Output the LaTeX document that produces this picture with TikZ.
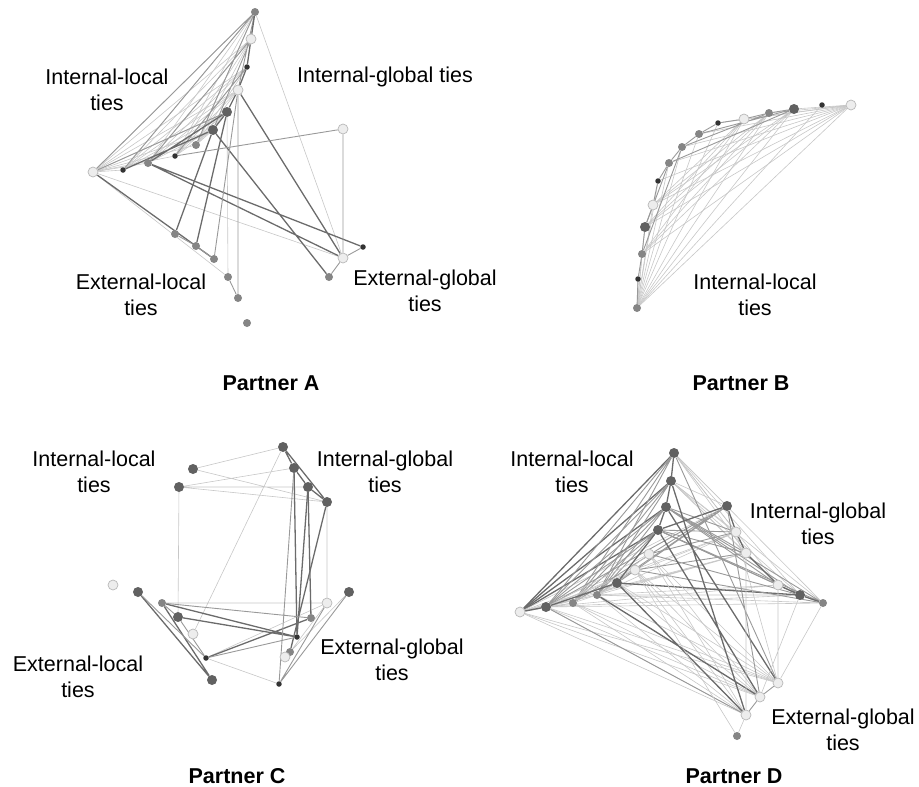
\documentclass[tikz,border=0pt]{standalone}
\usepackage{fontspec}
\setmainfont{Liberation Sans}
\usetikzlibrary{backgrounds}

\tikzset{
  dk/.style={circle,fill=black!62,inner sep=0pt,minimum size=10pt},
  dks/.style={circle,fill=black!80,inner sep=0pt,minimum size=5.5pt},
  md/.style={circle,fill=black!48,inner sep=0pt,minimum size=8pt},
  lt/.style={circle,fill=black!7,draw=black!28,line width=0.7pt,inner sep=0pt,minimum size=10pt},
  tieL/.style={draw=black!22,line width=0.6pt},
  tieM/.style={draw=black!40,line width=0.9pt},
  tieD/.style={draw=black!58,line width=1.3pt},
  lab/.style={font=\fontsize{21.5}{26}\selectfont,align=center},
  ttl/.style={font=\fontsize{21.5}{26}\selectfont\bfseries}
}

\begin{document}
\begin{tikzpicture}[x=1pt,y=-1pt]
\useasboundingbox (0,0) rectangle (919,787);

% Partner A
\node[md]  (A1)  at (255,12)  {};
\node[lt]  (A2)  at (251,39)  {};
\node[dks] (A3)  at (247,67)  {};
\node[lt]  (A4)  at (238,90)  {};
\node[dk]  (A5)  at (227,112) {};
\node[dk]  (A6)  at (213,130) {};
\node[md]  (A7)  at (196,145) {};
\node[dks] (A8)  at (175,156) {};
\node[md]  (A9)  at (148,163) {};
\node[dks] (A10) at (123,170) {};
\node[lt]  (A11) at (93,172)  {};
\node[lt]  (A12) at (343,129) {};
\node[dks] (A13) at (363,247) {};
\node[lt]  (A14) at (343,258) {};
\node[md]  (A15) at (329,277) {};
\node[md]  (A16) at (175,234) {};
\node[md]  (A17) at (196,246) {};
\node[md]  (A18) at (214,259) {};
\node[md]  (A19) at (228,277) {};
\node[md]  (A20) at (238,298) {};
\node[md]  (A21) at (247,323) {};

% Partner B
\node[lt]  (B1)  at (851,105) {};
\node[dks] (B2)  at (822,105) {};
\node[dk]  (B3)  at (794,109) {};
\node[md]  (B4)  at (769,113) {};
\node[lt]  (B5)  at (744,119) {};
\node[dks] (B6)  at (718,123) {};
\node[md]  (B7)  at (699,134) {};
\node[md]  (B8)  at (682,147) {};
\node[md]  (B9)  at (669,163) {};
\node[dks] (B10) at (658,181) {};
\node[lt]  (B11) at (653,205) {};
\node[dk]  (B12) at (645,227) {};
\node[md]  (B13) at (642,254) {};
\node[dks] (B14) at (638,279) {};
\node[md]  (B15) at (637,308) {};

% Partner C
\node[dk]  (C1)  at (283,447) {};
\node[dk]  (C2)  at (193,469) {};
\node[dk]  (C3)  at (294,468) {};
\node[dk]  (C4)  at (179,487) {};
\node[dk]  (C5)  at (308,487) {};
\node[dk]  (C6)  at (327,502) {};
\node[lt]  (C7)  at (113,585) {};
\node[dk]  (C8)  at (138,592) {};
\node[dk]  (C9)  at (349,592) {};
\node[md]  (C10) at (162,603) {};
\node[lt]  (C11) at (327,603) {};
\node[dk]  (C12) at (178,617) {};
\node[md]  (C13) at (311,618) {};
\node[lt]  (C14) at (193,634) {};
\node[dks] (C15) at (297,637) {};
\node[md]  (C16) at (290,652) {};
\node[lt]  (C17) at (285,657) {};
\node[dks] (C18) at (206,658) {};
\node[dk]  (C19) at (212,680) {};
\node[dks] (C20) at (279,684) {};

% Partner D
\node[dk]  (D1)  at (674,453) {};
\node[dk]  (D2)  at (671,481) {};
\node[dk]  (D3)  at (666,507) {};
\node[dk]  (D4)  at (727,506) {};
\node[dk]  (D5)  at (658,530) {};
\node[lt]  (D6)  at (736,532) {};
\node[lt]  (D7)  at (649,554) {};
\node[lt]  (D8)  at (746,553) {};
\node[lt]  (D9)  at (635,570) {};
\node[dk]  (D10) at (617,583) {};
\node[lt]  (D11) at (778,585) {};
\node[md]  (D12) at (597,595) {};
\node[dk]  (D13) at (800,595) {};
\node[md]  (D14) at (573,603) {};
\node[md]  (D15) at (823,603) {};
\node[dk]  (D16) at (546,607) {};
\node[lt]  (D17) at (520,612) {};
\node[lt]  (D18) at (778,683) {};
\node[lt]  (D19) at (760,697) {};
\node[lt]  (D20) at (746,715) {};
\node[md]  (D21) at (737,736) {};

\begin{pgfonlayer}{background}
% ties of A
\foreach \j in {1,...,10} \draw[tieL] (A11) -- (A\j);
\foreach \i in {7,8,9,10} \foreach \j in {1,...,6} \draw[tieL] (A\i) -- (A\j);
\draw[tieM] (A11) -- (A1) (A11) -- (A5) (A1) -- (A7) (A1) -- (A4) (A2) -- (A6)
  (A10) -- (A1) (A9) -- (A2) (A8) -- (A3);
\draw[tieD] (A10) -- (A6) (A9) -- (A5) (A1) -- (A2) -- (A3) -- (A4) -- (A5) -- (A6);
\draw[tieL] (A1) -- (A14) (A11) -- (A14) (A11) -- (A19) (A19) -- (A5);
\draw[tieD] (A4) -- (A14) (A6) -- (A15) (A9) -- (A13) (A9) -- (A14) (A11) -- (A18);
\draw[tieD] (A16) -- (A6) (A17) -- (A5);
\draw[tieM] (A4) -- (A20) (A8) -- (A12) (A12) -- (A14) (A13) -- (A14) -- (A15);
\draw[tieM] (A16) -- (A17) -- (A18) (A18) -- (A4) (A19) -- (A20);

% ties of B
\foreach \j in {1,...,14} \draw[tieL] (B15) -- (B\j);
\foreach \j in {3,...,13} \draw[tieL] (B1) -- (B\j);
\foreach \j in {3,4,5} \draw[tieL] (B11) -- (B\j) (B12) -- (B\j) (B13) -- (B\j);
\draw[tieM] (B15) -- (B14) -- (B13) -- (B12) -- (B11) -- (B10) -- (B9) -- (B8)
  -- (B7) -- (B6) -- (B5) -- (B4) -- (B3);
\draw[tieM] (B9) -- (B3) (B7) -- (B3) (B8) -- (B4) (B12) -- (B9) (B13) -- (B8);

% ties of C
\draw[tieL] (C1) -- (C2) (C2) -- (C6) (C4) -- (C6) (C4) -- (C5) (C4) -- (C3);
\draw[tieL] (C4) -- (C12) (C6) -- (C11) (C1) -- (C14) (C10) -- (C11);
\draw[tieL] (C18) -- (C11) (C18) -- (C20) (C17) -- (C9) (C16) -- (C11);
\draw[tieD] (C1) -- (C3) -- (C5) -- (C6) (C1) -- (C6) (C3) -- (C15) (C5) -- (C13);
\draw[tieD] (C5) -- (C15) (C6) -- (C16) (C8) -- (C19) (C10) -- (C19);
\draw[tieD] (C10) -- (C15) (C12) -- (C15) (C18) -- (C13);
\draw[tieM] (C3) -- (C20) (C10) -- (C13) (C8) -- (C18) (C18) -- (C15);
\draw[tieM] (C20) -- (C9) (C20) -- (C11) (C10) -- (C12) -- (C18);

% ties of D
\foreach \j in {1,2,3,5} \draw[tieD] (D17) -- (D\j);
\foreach \j in {4,6,...,16} \draw[tieL] (D17) -- (D\j);
\foreach \j in {1,...,5} \draw[tieM] (D16) -- (D\j) (D14) -- (D\j) (D12) -- (D\j);
\foreach \j in {6,...,15} \draw[tieL] (D16) -- (D\j) (D12) -- (D\j);
\foreach \j in {4,6,8,11,13,15} \draw[tieL] (D1) -- (D\j) (D2) -- (D\j);
\foreach \j in {6,8,11,13,15} \draw[tieM] (D3) -- (D\j) (D5) -- (D\j);
\draw[tieD] (D1) -- (D2) -- (D3) -- (D5) -- (D10) -- (D16) -- (D17);
\draw[tieD] (D10) -- (D13) (D5) -- (D4) (D4) -- (D6) -- (D8) -- (D11) -- (D13) -- (D15);
\draw[tieM] (D7) -- (D6) (D9) -- (D8) (D9) -- (D15) (D7) -- (D13) (D10) -- (D4);
\foreach \i in {18,19,20} \foreach \j in {10,12,14,16,17,7,9} \draw[tieL] (D\i) -- (D\j);
\draw[tieD] (D10) -- (D20) (D5) -- (D19) (D3) -- (D18) (D2) -- (D20) (D12) -- (D19);
\draw[tieM] (D1) -- (D18) (D16) -- (D20) (D18) -- (D19) -- (D20) (D4) -- (D19);
\draw[tieL] (D20) -- (D21) (D15) -- (D18) (D11) -- (D18) (D13) -- (D19) (D8) -- (D20)
  (D6) -- (D18) (D9) -- (D21);
\end{pgfonlayer}

% labels
\node[lab] (tAil) at (107,90)  {Internal-local\\ties};
\node[lab] (tAig) at (385,77)  {Internal-global ties};
\node[lab] (tAel) at (141,295) {External-local\\ties};
\node[lab] (tAeg) at (425,291) {External-global\\ties};
\node[lab] (tBil) at (755,295) {Internal-local\\ties};
\node[lab] (tCil) at (94,472)  {Internal-local\\ties};
\node[lab] (tCig) at (385,472) {Internal-global\\ties};
\node[lab] (tCel) at (78,677)  {External-local\\ties};
\node[lab] (tCeg) at (392,660) {External-global\\ties};
\node[lab] (tDil) at (572,472) {Internal-local\\ties};
\node[lab] (tDig) at (818,524) {Internal-global\\ties};
\node[lab] (tDeg) at (843,730) {External-global\\ties};

\node[ttl] (pA) at (271,383) {Partner A};
\node[ttl] (pB) at (741,383) {Partner B};
\node[ttl] (pC) at (237,776) {Partner C};
\node[ttl] (pD) at (734,776) {Partner D};
\end{tikzpicture}
\end{document}
